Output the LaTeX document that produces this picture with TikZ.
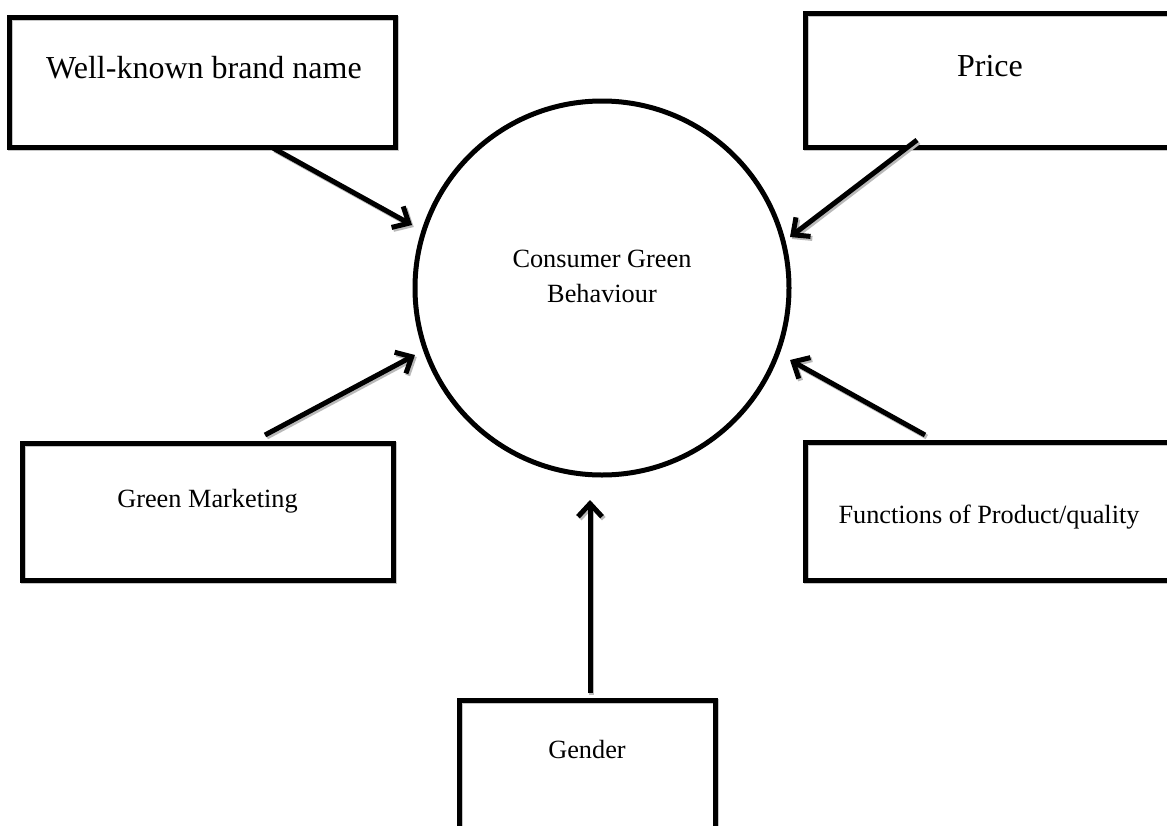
\documentclass[tikz,border=0pt]{standalone}
\usepackage{fontspec}
\setmainfont{Liberation Serif}
\usetikzlibrary{arrows.meta}
\begin{document}
\begin{tikzpicture}[x=1pt,y=-1pt,
  boxst/.style={draw, line width=5pt, rectangle, inner sep=0pt,
    preaction={draw=gray!45, line width=5pt, transform canvas={shift={(1.5pt,-1.5pt)}}}},
  bigtxt/.style={anchor=base, inner sep=0pt, font=\fontsize{32}{38}\selectfont},
  smalltxt/.style={anchor=base, inner sep=0pt, font=\fontsize{26.3}{32}\selectfont},
  arr/.style={line width=5pt, -{Straight Barb[length=13pt,width=24pt]},
    preaction={draw=gray!55, line width=5pt, -{Straight Barb[length=13pt,width=24pt]},
      transform canvas={shift={(1.8pt,-2pt)}}}}]
\useasboundingbox (0,0) rectangle (1167,825);
\begin{scope}
\clip (0,0) rectangle (1167,825);
% boxes
\node[boxst, minimum width=386pt, minimum height=130pt] (wk) at (202,82) {};
\node[boxst, minimum width=370pt, minimum height=134pt] (pr) at (990,80) {};
\node[boxst, minimum width=371pt, minimum height=137pt] (gm) at (207.5,511.5) {};
\node[boxst, minimum width=368pt, minimum height=138pt] (fn) at (989,511) {};
\node[boxst, minimum width=256pt, minimum height=128pt] (gd) at (587,764) {};
% circle
\node[draw, circle, line width=5pt, minimum size=374pt, inner sep=0pt] (cgb) at (602,288) {};
% texts
\node[bigtxt] (twk) at (204,78) {Well-known brand name};
\node[bigtxt] (tpr) at (990,76) {Price};
\node[smalltxt] (tc1) at (602,267) {Consumer Green};
\node[smalltxt] (tc2) at (602,302) {Behaviour};
\node[smalltxt] (tgm) at (207.5,507) {Green Marketing};
\node[smalltxt] (tfn) at (989,523) {Functions of Product/quality};
\node[smalltxt] (tgd) at (587,758) {Gender};
% arrow end points
\coordinate (a1s) at (273,148);
\coordinate (a1e) at (412,225);
\coordinate (a2s) at (917,140);
\coordinate (a2e) at (790,237);
\coordinate (a3s) at (265,435);
\coordinate (a3e) at (415,355);
\coordinate (a4s) at (925,435);
\coordinate (a4e) at (790,360);
\coordinate (a5s) at (590,693);
\coordinate (a5e) at (590,500);
\draw[arr] (a1s) -- (a1e);
\draw[arr] (a2s) -- (a2e);
\draw[arr] (a3s) -- (a3e);
\draw[arr] (a4s) -- (a4e);
\draw[arr] (a5s) -- (a5e);
\end{scope}
\end{tikzpicture}
\end{document}
